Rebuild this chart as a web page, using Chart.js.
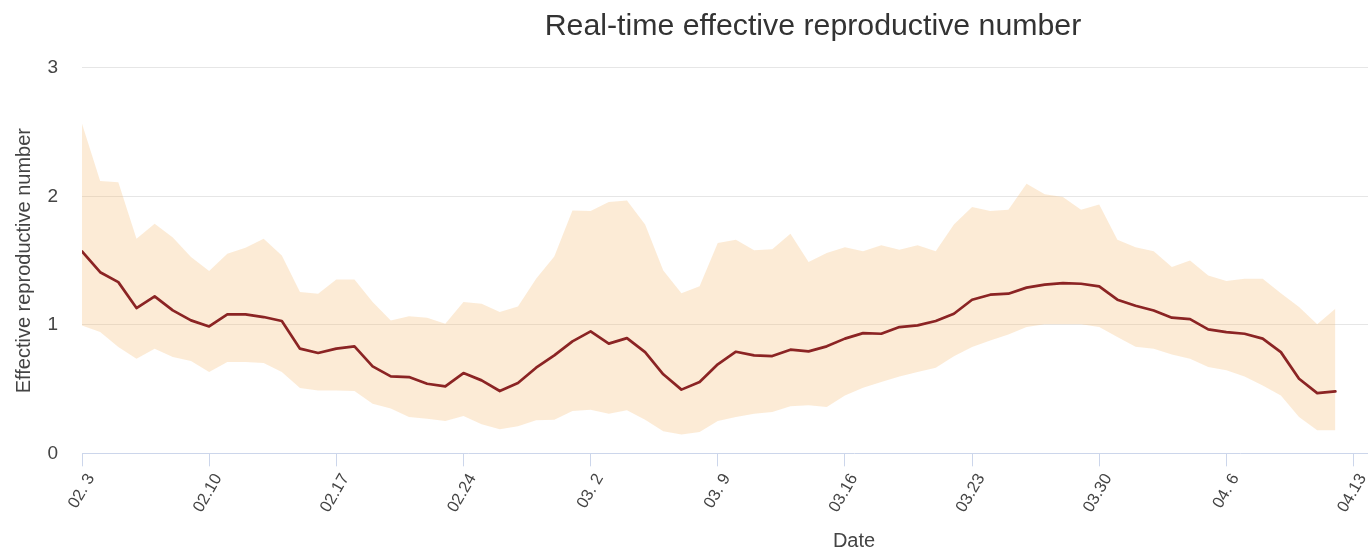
<!DOCTYPE html>
<html>
<head>
<meta charset="utf-8">
<script src="https://cdn.jsdelivr.net/npm/chart.js@4.4.1/dist/chart.umd.min.js"></script>
<style>
html,body{margin:0;padding:0;background:#ffffff;overflow:hidden;width:1368px;height:556px;}
#wrap{position:relative;width:1368px;height:556px;overflow:hidden;}
#c{position:absolute;left:0;top:0;}
</style>
</head>
<body>
<div id="wrap"><canvas id="c" width="1632" height="556"></canvas></div>
<script>
const chartTitle = 'Real-time effective reproductive number';
const xAxisTitle = 'Date';
const yAxisTitle = 'Effective reproductive number';

const dateLabels = [
  '02. 3','02. 4','02. 5','02. 6','02. 7','02. 8','02. 9','02.10','02.11','02.12','02.13','02.14','02.15','02.16',
  '02.17','02.18','02.19','02.20','02.21','02.22','02.23','02.24','02.25','02.26','02.27','02.28','02.29',
  '03. 1','03. 2','03. 3','03. 4','03. 5','03. 6','03. 7','03. 8','03. 9','03.10','03.11','03.12','03.13',
  '03.14','03.15','03.16','03.17','03.18','03.19','03.20','03.21','03.22','03.23','03.24','03.25','03.26',
  '03.27','03.28','03.29','03.30','03.31',
  '04. 1','04. 2','04. 3','04. 4','04. 5','04. 6','04. 7','04. 8','04. 9','04.10','04.11','04.12','04.13'
];

const meanR = [
  1.572,1.410,1.333,1.131,1.222,1.113,1.035,0.988,1.082,1.082,
  1.061,1.030,0.815,0.781,0.815,0.833,0.677,0.599,0.594,0.542,
  0.521,0.625,0.568,0.485,0.547,0.667,0.763,0.872,0.949,0.854,
  0.897,0.788,0.615,0.496,0.555,0.693,0.791,0.763,0.757,0.807,
  0.794,0.833,0.893,0.936,0.931,0.983,0.996,1.030,1.087,1.196,
  1.235,1.243,1.290,1.313,1.325,1.320,1.300,1.196,1.149,1.112,
  1.056,1.045,0.965,0.944,0.931,0.893,0.788,0.581,0.469,0.482
];

const upperR = [
  2.566,2.120,2.110,1.670,1.787,1.680,1.528,1.419,1.554,1.600,
  1.670,1.540,1.255,1.243,1.354,1.354,1.178,1.035,1.068,1.056,
  1.009,1.178,1.165,1.100,1.144,1.360,1.533,1.891,1.886,1.956,
  1.969,1.782,1.424,1.247,1.300,1.637,1.663,1.580,1.588,1.710,
  1.489,1.559,1.605,1.574,1.619,1.585,1.619,1.574,1.782,1.917,
  1.886,1.896,2.099,2.016,1.995,1.896,1.938,1.663,1.605,1.574,
  1.450,1.502,1.385,1.341,1.360,1.360,1.247,1.139,1.004,1.126
];

const lowerR = [
  0.996,0.944,0.827,0.737,0.815,0.750,0.718,0.633,0.711,0.711,
  0.703,0.633,0.508,0.490,0.490,0.485,0.387,0.350,0.283,0.270,
  0.251,0.290,0.226,0.187,0.210,0.257,0.262,0.329,0.340,0.309,
  0.335,0.262,0.171,0.146,0.166,0.251,0.283,0.309,0.321,0.366,
  0.374,0.360,0.451,0.511,0.555,0.599,0.633,0.667,0.755,0.827,
  0.879,0.926,0.983,1.004,1.004,1.004,0.983,0.905,0.830,0.815,
  0.770,0.737,0.672,0.646,0.599,0.529,0.451,0.283,0.179,0.179
];

const yTickValues = [0, 1, 2, 3];
const xTickStep = 7;
const xAxisMax = 85;

const FONT = '"Liberation Sans", Arial, Helvetica, sans-serif';
const TEXT_COLOR = '#444444';

const toPoints = arr => arr.map((v, i) => ({ x: i, y: v }));

new Chart(document.getElementById('c'), {
  type: 'line',
  data: {
    datasets: [
      {
        label: 'Rt',
        data: toPoints(meanR),
        borderColor: '#8b2424',
        borderWidth: 2.7,
        borderJoinStyle: 'round',
        borderCapStyle: 'round',
        pointRadius: 0,
        fill: false,
        tension: 0
      },
      {
        label: 'upper',
        data: toPoints(upperR),
        borderWidth: 0,
        borderColor: 'rgba(0,0,0,0)',
        backgroundColor: 'rgba(245,188,118,0.30)',
        pointRadius: 0,
        fill: '+1',
        tension: 0
      },
      {
        label: 'lower',
        data: toPoints(lowerR),
        borderWidth: 0,
        borderColor: 'rgba(0,0,0,0)',
        pointRadius: 0,
        fill: false,
        tension: 0
      }
    ]
  },
  options: {
    responsive: false,
    devicePixelRatio: 1,
    animation: false,
    events: [],
    layout: { padding: { top: 0, right: 6, bottom: 0, left: 0 } },
    plugins: {
      legend: { display: false },
      tooltip: { enabled: false },
      title: {
        display: true,
        text: chartTitle,
        color: '#333333',
        font: { family: FONT, size: 30.3, weight: 'normal' },
        padding: { top: 8, bottom: 23.6 }
      }
    },
    scales: {
      x: {
        type: 'linear',
        min: 0,
        max: xAxisMax,
        afterBuildTicks: scale => {
          scale.ticks = dateLabels
            .map((_, i) => i)
            .filter(i => i % xTickStep === 0)
            .map(i => ({ value: i }));
        },
        afterFit: scale => { scale.paddingLeft = 0; scale.paddingRight = 0; },
        ticks: {
          autoSkip: false,
          maxRotation: 60,
          minRotation: 60,
          padding: 4,
          labelOffset: 9,
          color: TEXT_COLOR,
          font: { family: FONT, size: 16.5 },
          callback: v => dateLabels[v]
        },
        grid: {
          drawOnChartArea: false,
          drawTicks: true,
          tickLength: 13,
          color: '#ccd6eb',
          lineWidth: 1
        },
        border: { display: true, color: '#ccd6eb', width: 1 },
        title: {
          display: true,
          text: xAxisTitle,
          color: TEXT_COLOR,
          font: { family: FONT, size: 20 },
          padding: { top: 9, bottom: 3 }
        }
      },
      y: {
        type: 'linear',
        min: 0,
        max: 3,
        afterBuildTicks: scale => {
          scale.ticks = yTickValues.map(v => ({ value: v }));
        },
        afterFit: scale => { scale.width = 82; },
        ticks: {
          padding: 24,
          color: TEXT_COLOR,
          font: { family: FONT, size: 19 }
        },
        grid: {
          drawTicks: false,
          color: ctx => (ctx.tick && ctx.tick.value === 0) ? 'rgba(0,0,0,0)' : '#e6e6e6',
          lineWidth: 1
        },
        border: { display: false },
        title: {
          display: true,
          text: yAxisTitle,
          color: TEXT_COLOR,
          font: { family: FONT, size: 20 },
          padding: { top: 12, bottom: 11 }
        }
      }
    }
  }
});
</script>
</body>
</html>
